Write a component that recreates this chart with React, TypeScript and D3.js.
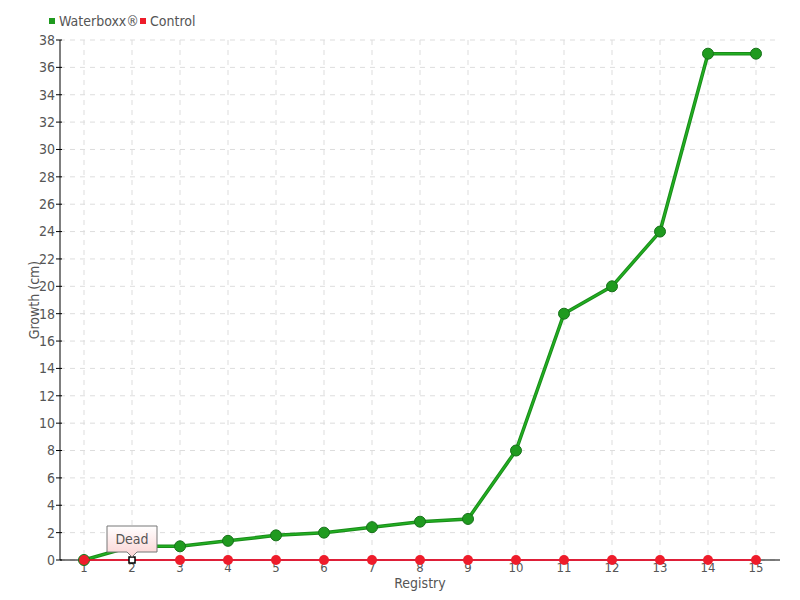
import React from "react";
import * as d3 from "d3";

const categories = ["1","2","3","4","5","6","7","8","9","10","11","12","13","14","15"];
const waterboxx = [0, 1, 1, 1.4, 1.8, 2, 2.4, 2.8, 3, 8, 18, 20, 24, 37, 37];
const control = [0, 0, 0, 0, 0, 0, 0, 0, 0, 0, 0, 0, 0, 0, 0];
const yTicks = d3.range(0, 39, 2);
const tooltipIndex = 1;
const tooltipText = "Dead";

const W = 800, H = 600;
const L = 60, R = 780, T = 40, B = 560;
const FONT = "'DejaVu Sans Condensed', 'DejaVu Sans', sans-serif";
const TXT = "#555";

export default function App() {
  const x = d3.scalePoint<string>().domain(categories).range([L, R]).padding(0.5);
  const y = d3.scaleLinear().domain([0, 38]).range([B, T]);
  const line = d3.line<number>().x((_, i) => x(categories[i])!).y(d => y(d));
  const tx = x(categories[tooltipIndex])!;
  const ty = y(control[tooltipIndex]);
  return (
    <svg width={W} height={H} style={{ position: "absolute", left: 0, top: 0, fontFamily: FONT, fontStretch: "condensed" }}>
      <defs>
        <linearGradient id="tipg" x1="0" y1="0" x2="0" y2="1">
          <stop offset="0" stopColor="#ffffff" />
          <stop offset="1" stopColor="#fbd3d3" />
        </linearGradient>
      </defs>
      <rect width={W} height={H} fill="#fff" />
      {/* grid */}
      {yTicks.map(t => (
        <line key={"gy" + t} x1={L} x2={R} y1={y(t)} y2={y(t)} stroke="#ddd" strokeDasharray="5,5" />
      ))}
      {categories.map(c => (
        <line key={"gx" + c} x1={x(c)} x2={x(c)} y1={T} y2={B} stroke="#ddd" strokeDasharray="5,5" />
      ))}
      {/* axes */}
      <line x1={L} x2={L} y1={T} y2={B} stroke="#000" />
      <line x1={L} x2={R} y1={B} y2={B} stroke="#000" />
      {yTicks.map(t => (
        <g key={"ty" + t}>
          <line x1={L - 4} x2={L + 2} y1={y(t)} y2={y(t)} stroke="#000" />
          <text x={L - 5} y={y(t)} dy="0.35em" textAnchor="end" fontSize={14} fill={TXT}>{t}</text>
        </g>
      ))}
      {categories.map(c => (
        <g key={"tx" + c}>
          <line x1={x(c)} x2={x(c)} y1={B} y2={B + 4} stroke="#000" />
          <text x={x(c)} y={B + 12} textAnchor="middle" fontSize={13} fill={TXT}>{c}</text>
        </g>
      ))}
      <text x={420} y={588} textAnchor="middle" fontSize={14} fill={TXT}>Registry</text>
      <text transform={`translate(39,${(T + B) / 2}) rotate(-90)`} textAnchor="middle" fontSize={14} fill={TXT}>Growth (cm)</text>
      {/* waterboxx series */}
      <path d={line(waterboxx)!} fill="none" stroke="#1a8c1a" strokeWidth={3.5} />
      <path d={line(waterboxx)!} fill="none" stroke="#22b022" strokeWidth={1.5} />
      {waterboxx.map((v, i) => (
        <circle key={"w" + i} cx={x(categories[i])} cy={y(v)} r={5.5} fill="#1f9a1f" stroke="#17721a" strokeWidth={1} />
      ))}
      {/* control series */}
      <path d={line(control)!} fill="none" stroke="#ff0022" strokeWidth={1.5} />
      {control.map((v, i) => (
        i === tooltipIndex ? null :
        <circle key={"c" + i} cx={x(categories[i])} cy={y(v)} r={5} fill="#ee1c2a" />
      ))}
      <rect x={tx - 3} y={ty - 3} width={6} height={6} fill="#fff" stroke="#000" strokeWidth={1.5} />
      {/* tooltip */}
      <path d={`M${tx - 25},${ty - 34} H${tx + 25} V${ty - 8} H${tx + 5} L${tx},${ty - 3} L${tx - 5},${ty - 8} H${tx - 25} Z`}
        fill="url(#tipg)" stroke="#777" strokeWidth={1} />
      <text x={tx} y={ty - 16} textAnchor="middle" fontSize={14} fill={TXT}>{tooltipText}</text>
      {/* legend */}
      <rect x={49} y={18} width={6} height={6} fill="#1f9a1f" />
      <text x={59} y={26} fontSize={14} fill={TXT}>Waterboxx®</text>
      <rect x={140} y={18} width={6} height={6} fill="#ee1c2a" />
      <text x={150} y={26} fontSize={14} fill={TXT}>Control</text>
    </svg>
  );
}
